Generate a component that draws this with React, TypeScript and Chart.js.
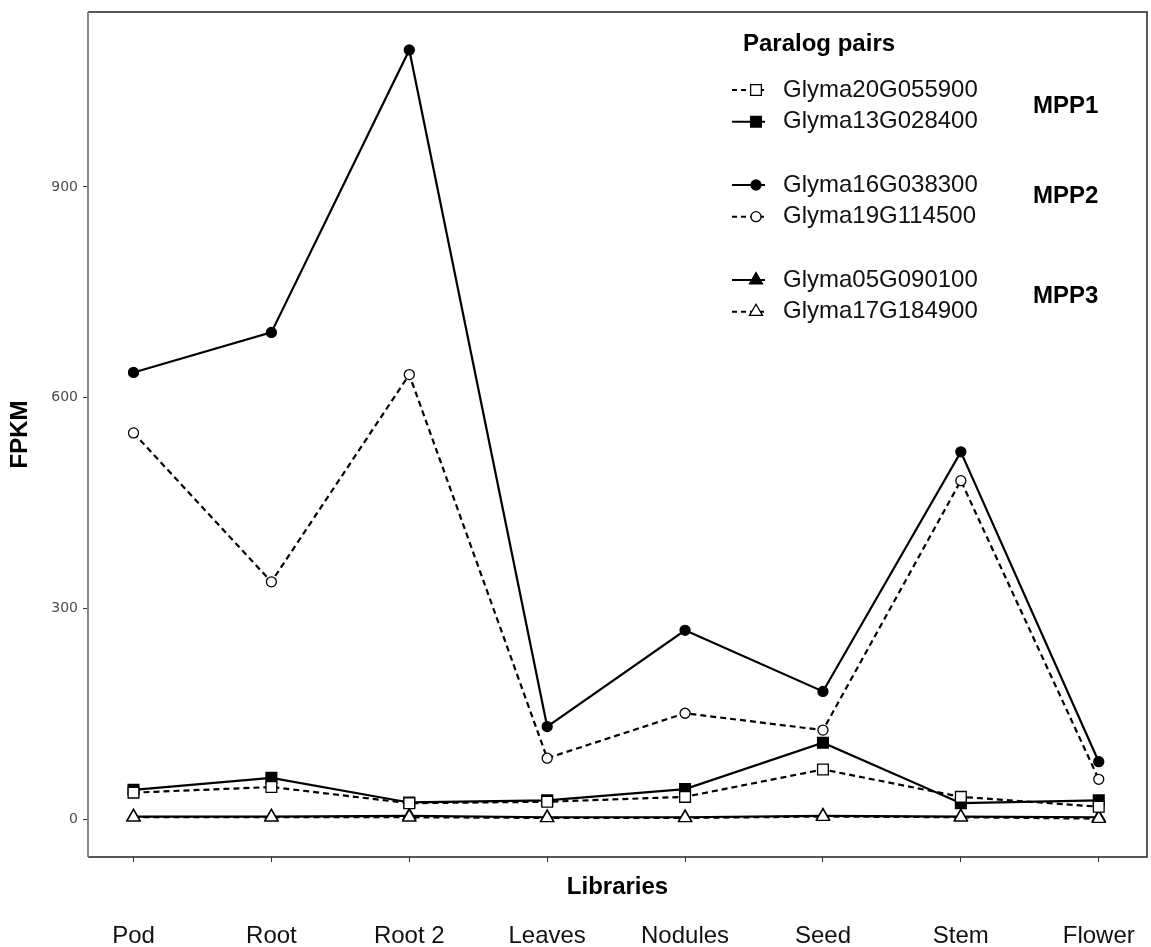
import React, { useEffect, useRef } from 'react';
import { Chart, registerables } from 'chart.js';

Chart.register(...registerables);

// ---- data ----
const categories = ['Pod', 'Root', 'Root 2', 'Leaves', 'Nodules', 'Seed', 'Stem', 'Flower'];
const yTicks = [0, 300, 600, 900];

const seriesNames = [
  'Glyma20G055900',
  'Glyma13G028400',
  'Glyma16G038300',
  'Glyma19G114500',
  'Glyma05G090100',
  'Glyma17G184900',
];
const glyma20G055900 = [38, 46, 23, 25, 32, 71, 32, 18];
const glyma13G028400 = [42, 59, 24, 27, 43, 109, 23, 27];
const glyma16G038300 = [636, 693, 1095, 132, 269, 182, 523, 82];
const glyma19G114500 = [550, 338, 633, 87, 151, 127, 482, 57];
const glyma05G090100 = [4, 4, 5, 3, 3, 5, 4, 3];
const glyma17G184900 = [3, 3, 3, 2, 2, 4, 3, 1];
const groupLabels = ['MPP1', 'MPP2', 'MPP3'];

const seriesValues = [
  glyma20G055900,
  glyma13G028400,
  glyma16G038300,
  glyma19G114500,
  glyma05G090100,
  glyma17G184900,
];

// styles (not data)
type Shape = 'rect' | 'circle' | 'triangle';
const shapes: Shape[] = ['rect', 'rect', 'circle', 'circle', 'triangle', 'triangle'];
const filled = [false, true, true, false, true, false];
const dashed = [true, false, false, true, false, true];

const FONT = '"Liberation Sans", Arial, Helvetica, sans-serif';
const radiusFor = (s: Shape) => (s === 'rect' ? 7.6 : s === 'circle' ? 5 : 7.5);

function drawMarker(ctx: CanvasRenderingContext2D, shape: Shape, isFilled: boolean, x: number, y: number) {
  ctx.save();
  ctx.fillStyle = isFilled ? '#000' : '#fff';
  ctx.strokeStyle = '#000';
  ctx.lineWidth = 1.3;
  ctx.setLineDash([]);
  ctx.beginPath();
  if (shape === 'rect') {
    const h = radiusFor(shape) * Math.SQRT1_2;
    ctx.rect(x - h, y - h, 2 * h, 2 * h);
  } else if (shape === 'circle') {
    ctx.arc(x, y, radiusFor(shape), 0, Math.PI * 2);
  } else {
    const r = radiusFor(shape);
    for (let k = 0; k < 3; k++) {
      const a = (k * 2 * Math.PI) / 3;
      const px = x + Math.sin(a) * r;
      const py = y - Math.cos(a) * r;
      if (k === 0) ctx.moveTo(px, py);
      else ctx.lineTo(px, py);
    }
    ctx.closePath();
  }
  ctx.fill();
  ctx.stroke();
  ctx.restore();
}

const decorPlugin = {
  id: 'decor',
  afterDraw(chart: any) {
    const { ctx, chartArea } = chart;
    const { left, right, top, bottom } = chartArea;
    ctx.save();
    // panel border
    ctx.setLineDash([]);
    ctx.strokeStyle = '#222';
    ctx.lineWidth = 1.5;
    ctx.beginPath();
    ctx.moveTo(left, top);
    ctx.lineTo(right, top);
    ctx.lineTo(right, bottom);
    ctx.lineTo(left, bottom);
    ctx.stroke();
    ctx.strokeStyle = '#888';
    ctx.lineWidth = 2;
    ctx.beginPath();
    ctx.moveTo(left, top);
    ctx.lineTo(left, bottom);
    ctx.stroke();

    // x-axis title (sits above the tick labels)
    ctx.fillStyle = '#000';
    ctx.font = `bold 24px ${FONT}`;
    ctx.textAlign = 'center';
    ctx.textBaseline = 'middle';
    ctx.fillText('Libraries', (left + right) / 2, 887);

    // legend
    ctx.textAlign = 'left';
    ctx.fillText('Paralog pairs', 743, 44);
    const rowYs = [90, 121.7, 185, 216.7, 280, 311.7];
    ctx.font = `24px ${FONT}`;
    seriesNames.forEach((name, i) => {
      const y = rowYs[i];
      ctx.strokeStyle = '#000';
      ctx.lineWidth = 2;
      ctx.setLineDash(dashed[i] ? [5, 4] : []);
      ctx.beginPath();
      ctx.moveTo(732, y);
      ctx.lineTo(765, y);
      ctx.stroke();
      drawMarker(ctx, shapes[i], filled[i], 756, y);
      ctx.fillStyle = '#111';
      ctx.fillText(name, 783, y);
    });
    ctx.font = `bold 24px ${FONT}`;
    ctx.fillStyle = '#000';
    const groupYs = [106, 196, 296];
    groupLabels.forEach((g, i) => ctx.fillText(g, 1033, groupYs[i]));
    ctx.restore();
  },
};

export default function App() {
  const ref = useRef<HTMLCanvasElement | null>(null);

  useEffect(() => {
    if (!ref.current) return;
    const datasets = seriesNames.map((name, i) => ({
      label: name,
      data: seriesValues[i].map((v, k) => ({ x: k, y: v })),
      borderColor: '#000',
      borderWidth: 2.2,
      borderDash: dashed[i] ? [6, 4] : [],
      backgroundColor: filled[i] ? '#000' : '#fff',
      pointStyle: shapes[i],
      pointRadius: radiusFor(shapes[i]),
      pointBorderWidth: 1.3,
      pointBorderColor: '#000',
      pointBackgroundColor: filled[i] ? '#000' : '#fff',
      tension: 0,
      fill: false,
      order: filled[i] ? 1 : 0,
    }));

    const chart = new Chart(ref.current, {
      type: 'line',
      data: { datasets },
      plugins: [decorPlugin],
      options: {
        animation: false,
        responsive: false,
        layout: { autoPadding: false, padding: { top: 12, right: 4, left: 0, bottom: 0 } },
        plugins: { legend: { display: false }, tooltip: { enabled: false } },
        scales: {
          x: {
            type: 'linear',
            min: -0.33,
            max: 7.35,
            afterBuildTicks: (scale: any) => {
              scale.ticks = categories.map((_, i) => ({ value: i }));
            },
            afterFit: (scale: any) => {
              scale.height = 90;
              scale.paddingLeft = 0;
              scale.paddingRight = 0;
            },
            ticks: {
              callback: (v: any) => categories[Math.round(Number(v))] ?? '',
              font: { family: FONT, size: 24 },
              color: '#111',
              padding: 60,
              maxRotation: 0,
              autoSkip: false,
            },
            grid: { drawOnChartArea: false, drawTicks: true, tickLength: 5, color: '#333' },
            border: { display: false },
          },
          y: {
            type: 'linear',
            min: -53.6,
            max: 1149,
            afterBuildTicks: (scale: any) => {
              scale.ticks = yTicks.map((v) => ({ value: v }));
            },
            afterFit: (scale: any) => {
              scale.width = 88;
              scale.paddingTop = 0;
              scale.paddingBottom = 0;
            },
            ticks: {
              font: { family: '"DejaVu Sans", sans-serif', size: 14 },
              color: '#4d4d4d',
              padding: 5,
            },
            grid: { drawOnChartArea: false, drawTicks: true, tickLength: 5, color: '#333' },
            border: { display: false },
            title: {
              display: true,
              text: 'FPKM',
              font: { family: FONT, size: 24, weight: 'bold' },
              color: '#000',
              padding: { top: 6, bottom: 0 },
            },
          },
        },
      },
    } as any);
    return () => chart.destroy();
  }, []);

  return (
    <div style={{ position: 'absolute', left: 0, top: 0, width: 1151, height: 947, background: '#fff' }}>
      <canvas ref={ref} width={1151} height={947} style={{ display: 'block' }} />
    </div>
  );
}
